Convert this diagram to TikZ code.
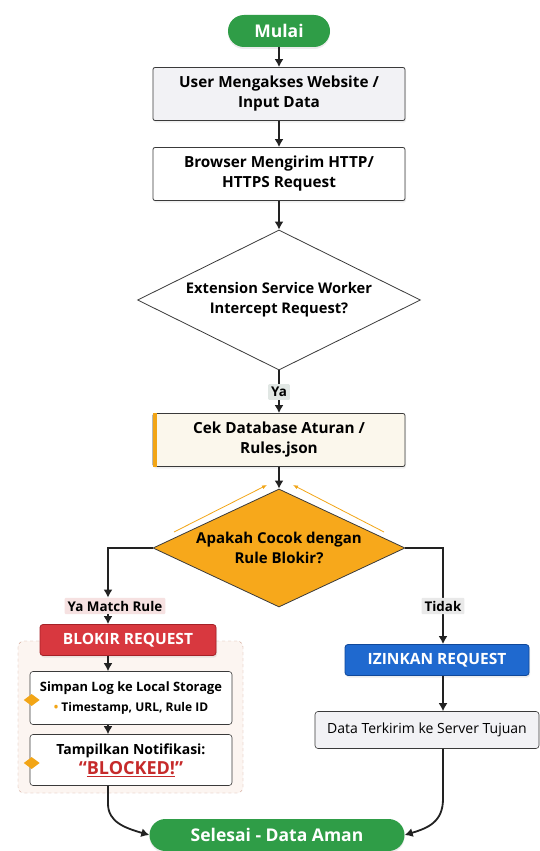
\documentclass[tikz,border=0pt]{standalone}
\usepackage{fontspec}
\setmainfont{Open Sans}
\usetikzlibrary{arrows.meta,positioning,shapes.geometric,shadows}
\definecolor{termgreen}{HTML}{2F9D47}
\definecolor{boxline}{HTML}{3A3A3A}
\definecolor{greybox}{HTML}{F2F2F5}
\definecolor{creambox}{HTML}{FBF7EC}
\definecolor{accent}{HTML}{F2A516}
\definecolor{ruleorange}{HTML}{F7A81B}
\definecolor{blockred}{HTML}{D8383F}
\definecolor{blockedge}{HTML}{A52127}
\definecolor{allowblue}{HTML}{1F69CF}
\definecolor{allowedge}{HTML}{10489A}
\definecolor{yatag}{HTML}{E1E7E4}
\definecolor{matchtag}{HTML}{F6E1E1}
\definecolor{tidaktag}{HTML}{E9E9E9}
\definecolor{groupfill}{HTML}{FCF5F1}
\definecolor{groupline}{HTML}{CFA090}
\definecolor{flowline}{HTML}{222222}
\definecolor{alertred}{HTML}{C62A2A}

\begin{document}
\begin{tikzpicture}[
  x=1pt,y=-1pt,
  font=\bfseries\fontsize{15.3}{20}\selectfont,
  box/.style={draw=boxline,rounded corners=2pt,thick,align=center,
    minimum width=252,minimum height=53,inner sep=3pt,fill=white,
    drop shadow={opacity=0.12,shadow xshift=1pt,shadow yshift=-2pt}},
  term/.style={fill=termgreen,text=white,rounded corners=16pt,
    minimum height=32,inner sep=4pt,font=\bfseries\fontsize{17.5}{20}\selectfont,
    drop shadow={opacity=0.15,shadow xshift=0pt,shadow yshift=-2pt}},
  decision/.style={diamond,draw=boxline,thick,fill=white,align=center,
    inner sep=0pt},
  act/.style={rounded corners=3pt,thick,text=white,minimum height=31,
    font=\bfseries\fontsize{15.5}{18}\selectfont,
    drop shadow={opacity=0.15,shadow xshift=1pt,shadow yshift=-2pt}},
  sub/.style={draw=boxline,rounded corners=3pt,semithick,fill=white,
    align=center,minimum width=202,inner sep=3pt},
  tag/.style={inner sep=3pt,rounded corners=1pt,
    font=\bfseries\fontsize{13.4}{15}\selectfont},
  group/.style={draw=groupline,dashed,fill=groupfill,rounded corners=6pt},
  marker/.style={diamond,fill=accent,minimum width=16,minimum height=12,inner sep=0pt},
  flow/.style={-{Latex[length=8pt,width=9pt]},line width=1.8pt,draw=flowline},
  loopback/.style={-{Latex[length=5pt,width=4pt]},line width=0.8pt,draw=accent}
]
  \useasboundingbox[fill=white] (0,0) rectangle (540,851);

  \node[term,minimum width=102] (mulai) at (279,31) {Mulai};
  \node[box,fill=greybox] (akses) at (279,94) {User Mengakses Website /\\Input Data};
  \node[box] (kirim) at (279,174) {Browser Mengirim HTTP/\\HTTPS Request};
  \node[decision,aspect=2.02,minimum width=283,minimum height=140,
    font=\bfseries\fontsize{14.7}{20}\selectfont] (sw) at (279,300)
    {Extension Service Worker\\Intercept Request?};
  \node[box,fill=creambox] (cek) at (279,440) {Cek Database Aturan /\\Rules.json};
  \fill[accent] (cek.north west) rectangle ([xshift=4pt]cek.south west);
  \node[decision,aspect=2.14,fill=ruleorange,minimum width=252,minimum height=118,
    font=\bfseries\fontsize{15}{20}\selectfont] (cocok)
    at (279,548) {Apakah Cocok dengan\\Rule Blokir?};

  \draw[flow] (mulai) -- (akses);
  \draw[flow] (akses) -- (kirim);
  \draw[flow] (kirim) -- (sw);
  \draw[flow] (sw) -- (cek);
  \node[tag,fill=yatag] (ya) at (279,392) {Ya};
  \draw[flow] (cek) -- (cocok);

  % small orange arrows pointing back to the rule check
  \coordinate (lbeg) at (174,532);
  \coordinate (lend) at (267,485);
  \coordinate (rbeg) at (384,532);
  \coordinate (rend) at (293,485);
  \draw[loopback] (lbeg) -- (lend);
  \draw[loopback] (rbeg) -- (rend);

  % blocked branch
  \coordinate (lane) at (108,600);
  \node[group,minimum width=225,minimum height=152] (grp) at (130.5,717) {};
  \node[tag,fill=matchtag] (match) at (115,606) {Ya Match Rule};
  \node[act,fill=blockred,draw=blockedge,minimum width=176] (blokir) at (128,640)
    {BLOKIR REQUEST};
  \node[sub,minimum height=53] (simpan) at (131,698)
    {\fontsize{12.9}{21}\selectfont Simpan Log ke Local Storage\\
     \fontsize{12}{14}\selectfont{\color{accent}\textbullet}\ Timestamp, URL, Rule ID};
  \node[sub,minimum height=51] (notif) at (131,760)
    {\fontsize{14}{20}\selectfont Tampilkan Notifikasi:\\
     \fontsize{18}{20}\selectfont\color{alertred}``\underline{BLOCKED!}''};
  \node[marker] (mark1) at ([xshift=2pt,yshift=-2pt]simpan.west) {};
  \node[marker] (mark2) at ([xshift=2pt,yshift=-3pt]notif.west) {};

  \draw[flow] (cocok.west) -| (match.north -| lane);
  \draw[flow] (match.south -| lane) -- (blokir.north -| lane);
  \draw[flow] (blokir.south -| lane) -- (simpan.north -| lane);
  \draw[flow] (simpan.south -| lane) -- (notif.north -| lane);

  % allowed branch
  \coordinate (rlane) at (443,600);
  \node[act,fill=allowblue,draw=allowedge,minimum width=184] (izin) at (437,660)
    {IZINKAN REQUEST};
  \node[sub,fill=greybox,minimum width=224,minimum height=37,
    font=\fontsize{14}{16}\selectfont] (data) at (427,730)
    {Data Terkirim ke Server Tujuan};
  \draw[flow] (cocok.east) -| (izin.north -| rlane);
  \node[tag,fill=tidaktag] (tidak) at (443,606) {Tidak};
  \draw[flow] (izin.south -| rlane) -- (data.north -| rlane);

  % end
  \node[term,minimum width=255] (selesai) at (277,835) {Selesai - Data Aman};
  \draw[flow] (notif.south -| lane) -- ++(0,18)
    .. controls (108,822) and (125,828) .. (selesai.west);
  \draw[flow] (data.south -| rlane) -- ++(0,50)
    .. controls (443,822) and (428,828) .. (selesai.east);
\end{tikzpicture}
\end{document}
